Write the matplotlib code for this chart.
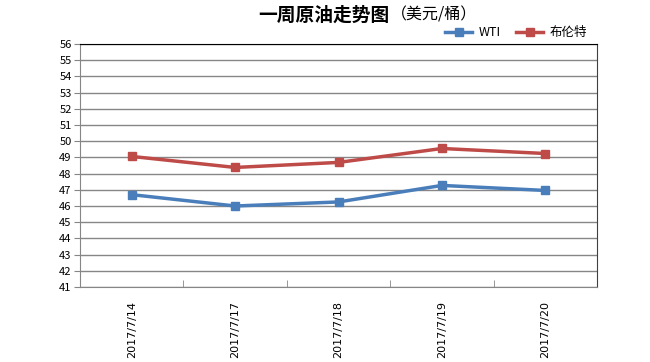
import matplotlib.pyplot as plt
import numpy as np

plt.rcParams['font.family'] = ['Noto Sans CJK SC', 'DejaVu Sans']

dates = ['2017/7/14', '2017/7/17', '2017/7/18', '2017/7/19', '2017/7/20']
wti = [46.7, 46.0, 46.25, 47.27, 46.96]
brent = [49.06, 48.38, 48.69, 49.55, 49.24]

fig = plt.figure(figsize=(6.5, 3.62), dpi=100)
ax = fig.add_axes([80/650, 1-287/362, 517/650, 243/362])

x = np.arange(len(dates))
ax.plot(x, wti, color='#4a7ebb', lw=2.5, marker='s', ms=6, label='WTI')
ax.plot(x, brent, color='#be4b48', lw=2.5, marker='s', ms=6, label='布伦特')

ax.set_xlim(-0.5, len(dates)-0.5)
ax.set_ylim(41, 56)
ax.set_yticks(range(41, 57))
ax.tick_params(axis='y', labelsize=8, length=4, color='#868686', pad=2)
ax.grid(axis='y', color='#868686', lw=1)
ax.set_axisbelow(True)

ax.set_xticks(x)
ax.set_xticklabels(dates, rotation=90, fontsize=8, family='DejaVu Sans')
ax.tick_params(axis='x', length=0, pad=10)
ax.set_xticks(np.arange(0.5, len(dates)-0.5), minor=True)
ax.tick_params(axis='x', which='minor', direction='in', length=5, color='#868686')

for s in ['left', 'bottom']:
    ax.spines[s].set_color('#868686')
ax.spines['top'].set_color('black')
ax.spines['right'].set_color('#404040')

fig.text(258/650, 1-15/362, '一周原油走势图', fontsize=13.5, fontweight='bold', va='center', ha='left')
fig.text(391/650, 1-15/362, '（美元/桶）', fontsize=11.5, va='center', ha='left')

ax.legend(loc='lower right', bbox_to_anchor=(592/650, 1-44/362), bbox_transform=fig.transFigure,
          ncol=2, frameon=False, fontsize=9, handlelength=2.2, handletextpad=0.5,
          columnspacing=1.2, borderaxespad=0)

fig.savefig('out.png', dpi=100)
